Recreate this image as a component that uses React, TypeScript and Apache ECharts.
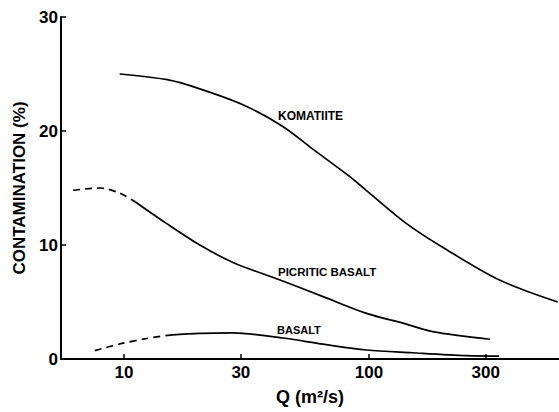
import React, { useEffect, useRef } from "react";
import * as echarts from "echarts";

// Q (m²/s), contamination (%)
const komatiite: [number, number][] = [
  [9.6, 25.0], [15, 24.5], [20.4, 23.7], [30.6, 22.3], [44.5, 20.4], [60, 18.3],
  [83.6, 16.0], [100, 14.6], [142, 11.9], [207, 9.6], [343, 6.9], [590, 5.0],
];
const picriticDashed: [number, number][] = [
  [6.2, 14.8], [8.0, 15.0], [9.6, 14.55], [11.1, 13.8],
];
const picriticSolid: [number, number][] = [
  [11.1, 13.8], [14.9, 11.9], [20.4, 10.0], [28, 8.45], [43.4, 6.93], [65, 5.47],
  [97.8, 4.0], [140, 3.1], [182, 2.4], [312, 1.73],
];
const basaltDashed: [number, number][] = [
  [7.6, 0.73], [9.6, 1.32], [12.4, 1.8], [15.4, 2.1],
];
const basaltSolid: [number, number][] = [
  [15.4, 2.1], [20.4, 2.25], [27.8, 2.3], [44.6, 1.84], [65, 1.3], [97.8, 0.79],
  [150, 0.55], [250, 0.3], [340, 0.26],
];
const xTickValues = [10, 30, 100, 300];
const yTickLabels = [0, 10, 20, 30];

const FONT = '"Liberation Sans", Arial, Helvetica, sans-serif';
const toLog = (pts: [number, number][]) => pts.map(([q, c]) => [Math.log10(q), c]);

export default function App() {
  const ref = useRef<HTMLDivElement>(null);
  useEffect(() => {
    if (!ref.current) return;
    const chart = echarts.init(ref.current, null, { renderer: "svg" });
    const line = (name: string, data: [number, number][], dashed: boolean) => ({
      name,
      type: "line",
      data: toLog(data),
      smooth: 0.3,
      showSymbol: false,
      symbol: "none",
      lineStyle: { color: "#000", width: 1.7, type: dashed ? [7, 5] : "solid" },
      silent: true,
    });
    const xTicks = xTickValues.map((v) => Math.log10(v));
    chart.setOption({
      animation: false,
      backgroundColor: "#fff",
      grid: { left: 61, right: 0, top: 17, bottom: 53, containLabel: false },
      xAxis: {
        type: "value",
        min: 0.743,
        max: 2.776,
        name: "Q (m²/s)",
        nameLocation: "middle",
        nameGap: 29,
        nameTextStyle: { fontFamily: FONT, fontWeight: "bold", fontSize: 18, color: "#000" },
        axisLine: { show: true, onZero: false, lineStyle: { color: "#000", width: 2 } },
        axisTick: { show: true, inside: true, length: 5, customValues: xTicks, lineStyle: { color: "#000", width: 1.5 } },
        axisLabel: {
          customValues: xTicks,
          margin: 5,
          fontFamily: FONT, fontWeight: "bold", fontSize: 17, color: "#000",
          formatter: (v: number) => String(Math.round(Math.pow(10, v))),
        },
        splitLine: { show: false },
      },
      yAxis: {
        type: "value",
        min: 0,
        max: 30,
        interval: 10,
        name: "CONTAMINATION (%)",
        nameLocation: "middle",
        nameGap: 30,
        nameRotate: 90,
        nameTextStyle: { fontFamily: FONT, fontWeight: "bold", fontSize: 17, color: "#000" },
        axisLine: { show: true, lineStyle: { color: "#000", width: 2 } },
        axisTick: { show: true, inside: true, length: 5, lineStyle: { color: "#000", width: 1.5 } },
        axisLabel: {
          margin: 3,
          fontFamily: FONT, fontWeight: "bold", fontSize: 17, color: "#000",
          formatter: (v: number) => (yTickLabels.includes(v) ? String(v) : ""),
        },
        splitLine: { show: false },
      },
      series: [
        line("Komatiite", komatiite, false),
        line("Picritic basalt (dashed)", picriticDashed, true),
        line("Picritic basalt", picriticSolid, false),
        line("Basalt (dashed)", basaltDashed, true),
        line("Basalt", basaltSolid, false),
      ],
      graphic: [
        { type: "text", left: 278, top: 110, style: { text: "KOMATIITE", font: `bold 12px ${FONT}`, fill: "#000" } },
        { type: "text", left: 278, top: 266, style: { text: "PICRITIC BASALT", font: `bold 11.5px ${FONT}`, fill: "#000" } },
        { type: "text", left: 277, top: 324.5, style: { text: "BASALT", font: `bold 11px ${FONT}`, fill: "#000" } },
      ],
    });
    return () => chart.dispose();
  }, []);
  return (
    <div
      ref={ref}
      style={{ position: "fixed", left: 0, top: 0, width: 559, height: 412, background: "#fff" }}
    />
  );
}
